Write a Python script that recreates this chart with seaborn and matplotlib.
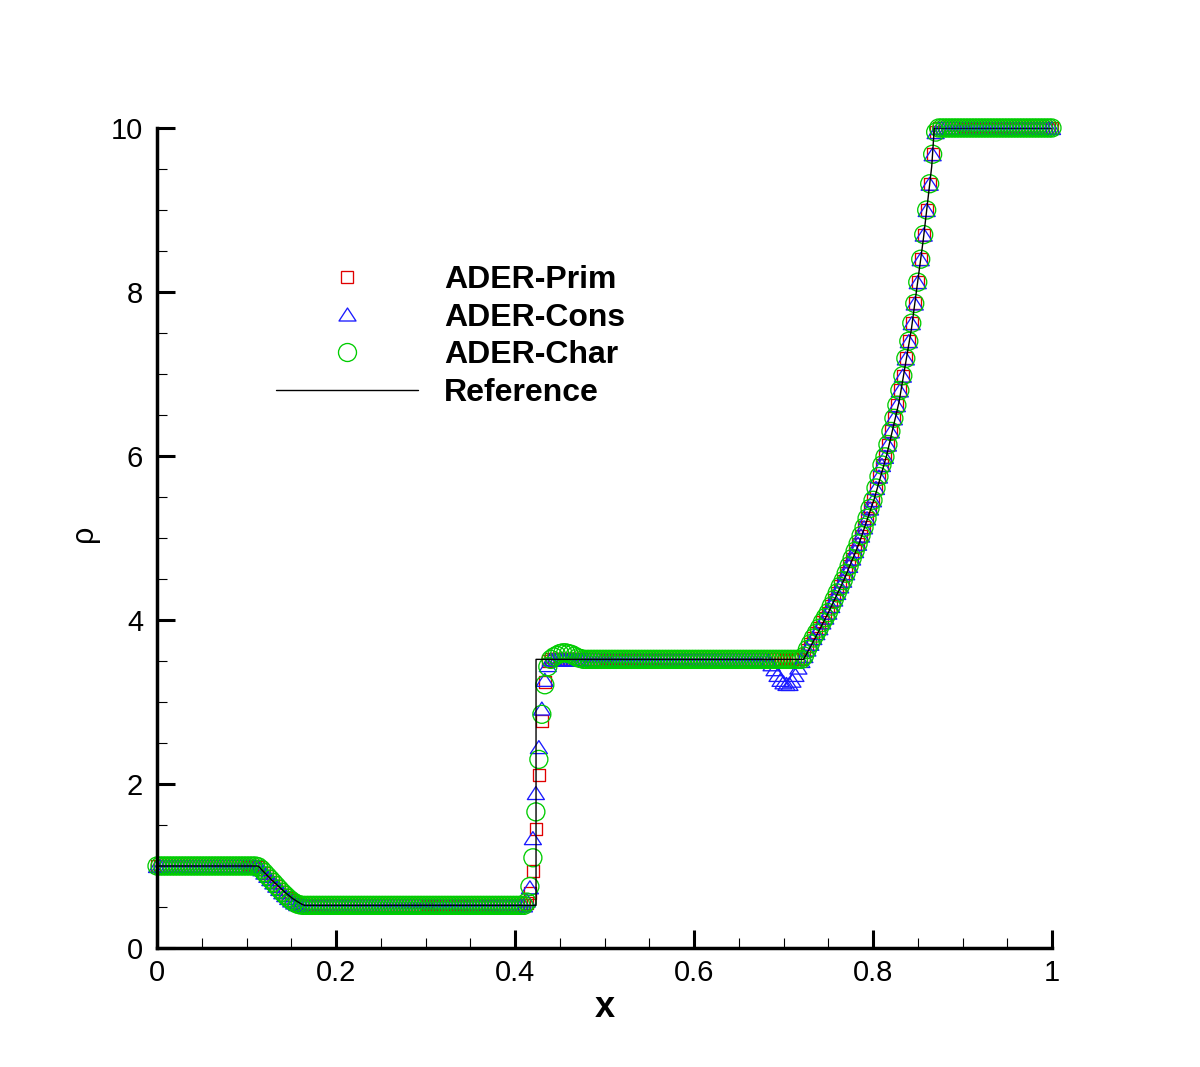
import numpy as np
import matplotlib
matplotlib.use("Agg")
import matplotlib.pyplot as plt
from matplotlib.lines import Line2D
from matplotlib.path import Path
from matplotlib.ticker import MultipleLocator
import seaborn as sns

# ---------------- data ----------------
# 301 cells on [0, 1]
x_cells = np.linspace(0.0, 1.0, 301)

left_state = 1.0     # cells 0..33
low_state = 0.52     # cells 50..123
high_state = 3.52    # plateau between contact and right fan
right_state = 10.0   # cells 262..300

# left rarefaction fan, cells 34..49
fan_left = [0.99, 0.96, 0.92, 0.88, 0.84, 0.80, 0.76, 0.72,
            0.68, 0.645, 0.61, 0.58, 0.555, 0.535, 0.525, 0.52]

# right rarefaction fan, cells 217..261
fan_right = [3.56, 3.64, 3.71, 3.78, 3.84, 3.90, 3.97, 4.03, 4.09,
             4.17, 4.25, 4.33, 4.41, 4.48, 4.57, 4.66, 4.75, 4.84,
             4.93, 5.03, 5.13, 5.24, 5.36, 5.46, 5.61, 5.75, 5.89,
             5.99, 6.14, 6.30, 6.46, 6.62, 6.80, 6.98, 7.19, 7.40,
             7.62, 7.86, 8.12, 8.40, 8.70, 9.00, 9.32, 9.68, 9.95]

# contact jump, cells 124..131
prim_jump = [0.55, 0.67, 0.94, 1.45, 2.11, 2.77, 3.24, 3.50]
cons_jump = [0.58, 0.74, 1.34, 1.89, 2.45, 2.92, 3.27, 3.45]
char_jump = [0.56, 0.75, 1.10, 1.66, 2.30, 2.85, 3.21, 3.43]

# ADER-Char small overshoot after the contact, cells 132..142
char_bump = [3.52, 3.55, 3.57, 3.59, 3.60, 3.60, 3.59, 3.58, 3.56, 3.54, 3.53]
# ADER-Cons undershoot ahead of the right fan, cells 205..216
cons_dip = [3.50, 3.46, 3.40, 3.33, 3.27, 3.24, 3.22, 3.22, 3.26, 3.33, 3.42, 3.50]

rho_prim = ([left_state] * 34 + fan_left + [low_state] * 74 + prim_jump
            + [high_state] * 85 + fan_right + [right_state] * 39)
rho_cons = ([left_state] * 34 + fan_left + [low_state] * 74 + cons_jump
            + [high_state] * 73 + cons_dip + fan_right + [right_state] * 39)
rho_char = ([left_state] * 34 + fan_left + [low_state] * 74 + char_jump
            + char_bump + [high_state] * 74 + fan_right + [right_state] * 39)

# exact (reference) solution polyline
ref_x = [0.0, 0.113, 0.120, 0.128, 0.136, 0.144, 0.152, 0.160, 0.1645,
         0.4235, 0.4235, 0.7225, 0.7363, 0.7501, 0.7676, 0.7847, 0.8015,
         0.8153, 0.8291, 0.8428, 0.8562, 0.8656, 0.8685, 1.0]
ref_rho = [1.0, 1.0, 0.92, 0.83, 0.75, 0.67, 0.60, 0.545, 0.52,
           0.52, 3.52, 3.52, 3.80, 4.09, 4.49, 4.94, 5.48,
           6.01, 6.66, 7.54, 8.64, 9.53, 10.0, 10.0]

series_labels = ["ADER-Prim", "ADER-Cons", "ADER-Char", "Reference"]
x_ticks = [0, 0.2, 0.4, 0.6, 0.8, 1]
x_tick_labels = ["0", "0.2", "0.4", "0.6", "0.8", "1"]
y_ticks = [0, 2, 4, 6, 8, 10]
y_tick_labels = ["0", "2", "4", "6", "8", "10"]

# ---------------- style ----------------
sns.set_style("white")
plt.rcParams["font.family"] = ["Liberation Sans", "DejaVu Sans"]
plt.rcParams["text.color"] = "black"
plt.rcParams["axes.labelcolor"] = "black"
plt.rcParams["xtick.color"] = "black"
plt.rcParams["ytick.color"] = "black"

RED = "#e00000"
BLUE = "#1a1aff"
GREEN = "#00cc00"

tri = Path([(0, 0.765), (-1, -0.765), (1, -0.765), (0, 0.765)],
           [Path.MOVETO, Path.LINETO, Path.LINETO, Path.CLOSEPOLY])

W, H = 1200, 1067
fig = plt.figure(figsize=(W / 100, H / 100), dpi=100)
ax = fig.add_axes([157 / W, (H - 948) / H, 895 / W, 820 / H])

ms_sq, ms_tri, ms_circ = 8.64, 12.24, 12.96
mlw = 0.95

sns.scatterplot(x=x_cells, y=rho_prim, marker="s", s=ms_sq ** 2,
                facecolors="none", edgecolor=RED, linewidth=mlw,
                ax=ax, clip_on=False, zorder=2, legend=False)
sns.scatterplot(x=x_cells, y=rho_cons, marker=tri, s=ms_tri ** 2,
                facecolors="none", edgecolor=BLUE, linewidth=mlw,
                ax=ax, clip_on=False, zorder=2, legend=False)
sns.scatterplot(x=x_cells, y=rho_char, marker="o", s=ms_circ ** 2,
                facecolors="none", edgecolor=GREEN, linewidth=mlw,
                ax=ax, clip_on=False, zorder=2, legend=False)
sns.lineplot(x=ref_x, y=ref_rho, sort=False, estimator=None, color="black",
             linewidth=1.0, ax=ax, zorder=2.2, legend=False)

ax.set_xlim(0, 1)
ax.set_ylim(0, 10)
ax.set_xticks(x_ticks, x_tick_labels)
ax.set_yticks(y_ticks, y_tick_labels)
ax.xaxis.set_minor_locator(MultipleLocator(0.05))
ax.yaxis.set_minor_locator(MultipleLocator(0.5))
ax.set_xlabel("")
ax.set_ylabel("")

for side in ["top", "right"]:
    ax.spines[side].set_visible(False)
for side in ["left", "bottom"]:
    ax.spines[side].set_linewidth(2.5)
    ax.spines[side].set_color("black")
    ax.spines[side].set_zorder(3)

ax.tick_params(which="both", bottom=True, left=True, top=False, right=False,
               direction="in", color="black", labelcolor="black")
ax.tick_params(which="major", length=13, width=2.2, labelsize=21)
ax.tick_params(axis="x", which="major", pad=8)
ax.tick_params(axis="y", which="major", pad=10)
ax.tick_params(which="minor", length=7, width=0.8)

# axis titles
fig.text(605 / W, 1 - 1017 / H, "x", ha="center", va="baseline",
         fontsize=26, fontweight="bold", color="black")
fig.text(84 / W, 1 - 533 / H, "ρ", ha="center", va="center",
         rotation=90, fontsize=22, color="black")

# legend
handles = [
    Line2D([], [], ls="none", marker="s", ms=ms_sq, mfc="none", mec=RED, mew=mlw),
    Line2D([], [], ls="none", marker=tri, ms=ms_tri, mfc="none", mec=BLUE, mew=mlw),
    Line2D([], [], ls="none", marker="o", ms=ms_circ, mfc="none", mec=GREEN, mew=mlw),
    Line2D([], [], color="black", lw=1.0),
]
leg = ax.legend(handles, series_labels, loc="upper left",
                bbox_to_anchor=(276 / W, 1 - 265 / H), bbox_transform=fig.transFigure,
                frameon=False, borderpad=0, borderaxespad=0,
                handlelength=4.45, handletextpad=0.8, labelspacing=0.24,
                prop=dict(weight="bold", size=23))
for t in leg.get_texts():
    t.set_color("black")

fig.savefig("out.png", dpi=100, facecolor="white")
